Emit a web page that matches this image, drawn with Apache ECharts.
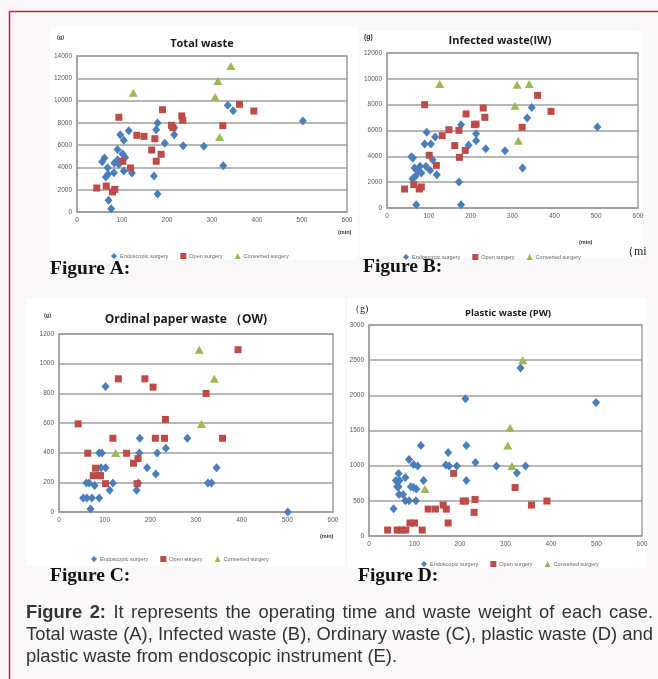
<!DOCTYPE html>
<html><head><meta charset="utf-8">
<script src="https://cdn.jsdelivr.net/npm/echarts@6/dist/echarts.min.js"></script>
<style>html,body{margin:0;padding:0;background:#fbf8f9;}#c{width:658px;height:679px;}</style>
</head><body><div id="c"></div>
<script>
// ---------- DATA ----------
const seriesNames = ['Endoscopic surgery', 'Open surgery', 'Converted surgery'];
const xTicks = [0, 100, 200, 300, 400, 500, 600];

// Panel A: Total waste  [operating time (min), weight (g)]
const aEndo = [[56,4500],[61,4850],[64,3140],[69,3380],[68,3980],[70,1050],[76,300],[82,3530],[83,4400],[90,5600],[90,4670],[93,4280],[96,6940],[101,5230],[104,6430],[104,3680],[107,4880],[115,7300],[122,3500],[171,3230],[176,7390],[179,7990],[179,1620],[195,6160],[216,7570],[216,6940],[236,5950],[282,5890],[325,4160],[335,9570],[347,9090],[502,8170]];
const aOpen = [[44,2150],[65,2330],[79,1800],[84,2030],[93,8500],[102,4550],[119,3950],[133,6880],[149,6790],[166,5560],[173,6580],[176,4550],[187,5180],[190,9180],[210,7780],[213,7570],[233,8620],[235,8230],[324,7750],[361,9660],[393,9060]];
const aConv = [[125,10710],[307,10320],[313,11760],[317,6730],[342,13100]];

// Panel B: Infected waste (IW)
const bEndo = [[58,3970],[62,3870],[61,2270],[66,3100],[68,2450],[70,260],[75,2840],[79,3230],[82,2710],[90,4950],[93,3230],[95,5860],[103,2920],[105,4950],[109,3740],[115,5500],[119,2580],[172,2010],[177,6450],[177,260],[195,4850],[213,5750],[213,5210],[236,4590],[282,4440],[324,3100],[335,6970],[346,7790],[503,6270]];
const bOpen = [[42,1470],[64,1810],[77,1470],[82,1630],[90,8000],[101,4080],[118,3300],[132,5600],[148,6060],[162,4830],[172,6010],[173,3920],[187,4460],[189,7280],[209,6450],[213,6500],[230,7740],[234,7020],[323,6250],[360,8720],[392,7480]];
const bConv = [[126,9600],[306,7920],[311,9550],[314,5210],[340,9600]];

// Panel C: Ordinal paper waste (OW)
const cEndo = [[53,95],[60,196],[66,196],[61,95],[69,20],[72,95],[78,178],[88,398],[88,95],[94,398],[92,299],[102,299],[102,846],[111,146],[118,196],[170,146],[174,196],[176,398],[177,497],[193,299],[212,257],[215,398],[234,430],[281,497],[326,196],[334,196],[345,299],[501,0]];
const cOpen = [[42,594],[63,396],[75,245],[80,295],[86,245],[91,245],[102,191],[118,497],[130,898],[148,396],[163,329],[173,360],[171,191],[188,898],[206,842],[211,497],[231,497],[233,624],[322,799],[358,497],[392,1094]];
const cConv = [[124,398],[307,1094],[312,594],[340,898]];

// Panel D: Plastic waste (PW)
const dEndo = [[54,388],[59,790],[62,700],[65,890],[65,700],[67,790],[66,590],[75,590],[80,833],[80,500],[88,1088],[88,500],[92,700],[98,1017],[98,690],[104,667],[103,500],[107,994],[114,1287],[120,790],[169,1008],[174,1188],[176,994],[193,994],[212,1950],[214,1287],[214,790],[234,1046],[280,994],[325,894],[333,2390],[344,994],[499,1898]];
const dOpen = [[41,85],[62,85],[71,85],[81,85],[90,185],[100,185],[117,85],[130,383],[146,383],[163,440],[170,383],[174,185],[186,890],[207,497],[212,497],[231,336],[233,520],[321,690],[357,440],[391,497]];
const dConv = [[123,667],[305,1287],[310,1538],[314,994],[338,2498]];

const panelTitles = ['Total waste', 'Infected waste(IW)', 'Ordinal paper waste （OW)', 'Plastic waste (PW)'];
const yMax = [14000, 12000, 1200, 3000];
const yStep = [2000, 2000, 200, 500];
const figLabels = ['Figure A:', 'Figure B:', 'Figure C:', 'Figure D:'];
const captionLines = [
  'Figure 2: It represents the operating time and waste weight of each case.',
  'Total waste (A), Infected waste (B), Ordinary waste (C), plastic waste (D) and',
  'plastic waste from endoscopic instrument (E).'
];

// ---------- LAYOUT ----------
const grids = [
  {left: 77, top: 56, width: 270, height: 156},
  {left: 387, top: 53, width: 251, height: 155},
  {left: 59, top: 334, width: 274, height: 178},
  {left: 369, top: 325, width: 273, height: 211}
];
const panelData = [[aEndo,aOpen,aConv],[bEndo,bOpen,bConv],[cEndo,cOpen,cConv],[dEndo,dOpen,dConv]];
const colors = ['#4a7ebb', '#be4b48', '#98b954'];
const symbols = ['diamond', 'rect', 'triangle'];
const symSizes = [[8,9], 7, [9,8]];

const chart = echarts.init(document.getElementById('c'));

const gridLine = '#9f9f9f';
const xAxes = [], yAxes = [], series = [];
grids.forEach((g, i) => {
  xAxes.push({gridIndex: i, type: 'value', min: 0, max: 600, interval: 100,
    axisLine: {show: true, lineStyle: {color: gridLine, width: 1.5}}, axisTick: {show: false},
    splitLine: {show: false},
    axisLabel: {fontSize: 6.5, color: '#595959', margin: 5, fontFamily: 'Liberation Sans'}});
  yAxes.push({gridIndex: i, type: 'value', min: 0, max: yMax[i], interval: yStep[i],
    axisLine: {show: true, lineStyle: {color: gridLine, width: 1.5}}, axisTick: {show: false},
    splitLine: {show: true, lineStyle: {color: gridLine, width: 1.5}},
    axisLabel: {fontSize: 6.5, color: '#595959', margin: 5, fontFamily: 'Liberation Sans',
      formatter: v => String(v)}});
  panelData[i].forEach((d, k) => {
    series.push({name: seriesNames[k], type: 'scatter', xAxisIndex: i, yAxisIndex: i,
      data: d, symbol: symbols[k], symbolSize: symSizes[k],
      itemStyle: {color: colors[k], opacity: 1}, z: 3 + k});
  });
});

const titleCfg = [
  {x: 197, y: 33, size: 11},
  {x: 495, y: 30, size: 11},
  {x: 181, y: 309, size: 12},
  {x: 503, y: 303, size: 9.5}
];
const titles = panelTitles.map((t, i) => ({text: t, left: titleCfg[i].x, top: titleCfg[i].y, textAlign: 'center',
  textStyle: {fontSize: titleCfg[i].size, fontWeight: 'bold', color: '#1a1a1a', fontFamily: 'Open Sans'}}));

const legendPos = [{left: 106, top: 248}, {left: 398, top: 249}, {left: 86, top: 551}, {left: 416, top: 556}];
const legends = legendPos.map(p => ({left: p.left, top: p.top, itemWidth: 6, itemHeight: 6, itemGap: 12,
  textStyle: {fontSize: 5.5, color: '#666', fontFamily: 'Liberation Sans', padding: [0,0,0,-2]},
  data: seriesNames.map((n, k) => ({name: n, icon: symbols[k]}))}));

// graphic
const g = [];
g.push({type: 'rect', shape: {x: 0, y: 0, width: 658, height: 679}, style: {fill: '#fbf8f9'}, z: -10});
const boxes = [[50,27,307,233],[360,31,283,227],[27,298,318,268],[347,298,300,270]];
boxes.forEach(b => g.push({type: 'rect', shape: {x: b[0], y: b[1], width: b[2], height: b[3]}, style: {fill: '#ffffff'}, z: -9}));
g.push({type: 'line', shape: {x1: 9.5, y1: 11.5, x2: 658, y2: 11.5}, style: {stroke: '#c3204a', lineWidth: 1.5}, z: 10});
g.push({type: 'line', shape: {x1: 9.5, y1: 11.5, x2: 9.5, y2: 679}, style: {stroke: '#c3204a', lineWidth: 1.5}, z: 10});

const small = (txt, x, y, size) => g.push({type: 'text', x: x, y: y, z: 10,
  style: {text: txt, fontSize: size, fontWeight: 'bold', fill: '#333', fontFamily: 'Liberation Sans', textVerticalAlign: 'middle'}});
small('(g)', 57, 37, 5.5);
small('(g)', 364, 37, 7);
small('(g)', 44, 315, 5.5);
g.push({type: 'text', x: 350, y: 309, z: 10, style: {text: '（g)', fontSize: 10, fill: '#222', fontFamily: 'Liberation Serif', textVerticalAlign: 'middle'}});
small('(min)', 338, 232, 5.5);
small('(min)', 579, 242, 5.5);
small('(min)', 320, 536, 5.5);
g.push({type: 'text', x: 622, y: 252, z: 10, style: {text: '（mi', fontSize: 12, fill: '#222', fontFamily: 'Liberation Serif', textVerticalAlign: 'middle'}});

const figPos = [[50,269],[363,267],[50,576],[358,576]];
figLabels.forEach((t, i) => g.push({type: 'text', x: figPos[i][0], y: figPos[i][1], z: 10,
  style: {text: t, fontSize: 19.5, fontWeight: 'bold', fill: '#111', fontFamily: 'Liberation Serif', textVerticalAlign: 'middle'}}));

// caption with justified lines
const cv = document.createElement('canvas').getContext('2d');
const capFont = 'Liberation Sans';
const capSize = 18.4;
function measure(t, bold) { cv.font = (bold ? 'bold ' : '') + capSize + 'px "' + capFont + '"'; return cv.measureText(t).width; }
const capLeft = 26, capRight = 653, capY = [613, 635, 657];
function placeLine(words, boldCount, y, justify) {
  const widths = words.map((w, j) => measure(w, j < boldCount));
  const total = widths.reduce((a, b) => a + b, 0);
  const natural = measure(' ', false);
  const space = justify ? Math.max(natural * 0.8, (capRight - capLeft - total) / (words.length - 1)) : natural;
  let x = capLeft;
  words.forEach((w, j) => {
    g.push({type: 'text', x: x, y: y, z: 10, style: {text: w, fontSize: capSize, fontFamily: capFont,
      fontWeight: j < boldCount ? 'bold' : 'normal', fill: '#333', textVerticalAlign: 'middle'}});
    x += widths[j] + space;
  });
}
placeLine(captionLines[0].split(' '), 2, capY[0], true);
placeLine(captionLines[1].split(' '), 0, capY[1], true);
placeLine(captionLines[2].split(' '), 0, capY[2], false);

chart.setOption({
  animation: false,
  backgroundColor: 'transparent',
  title: titles,
  legend: legends,
  grid: grids.map(gr => Object.assign({show: true, borderColor: gridLine, borderWidth: 1.5, backgroundColor: '#fff'}, gr)),
  xAxis: xAxes,
  yAxis: yAxes,
  series: series,
  graphic: {elements: g}
});
</script></body></html>
